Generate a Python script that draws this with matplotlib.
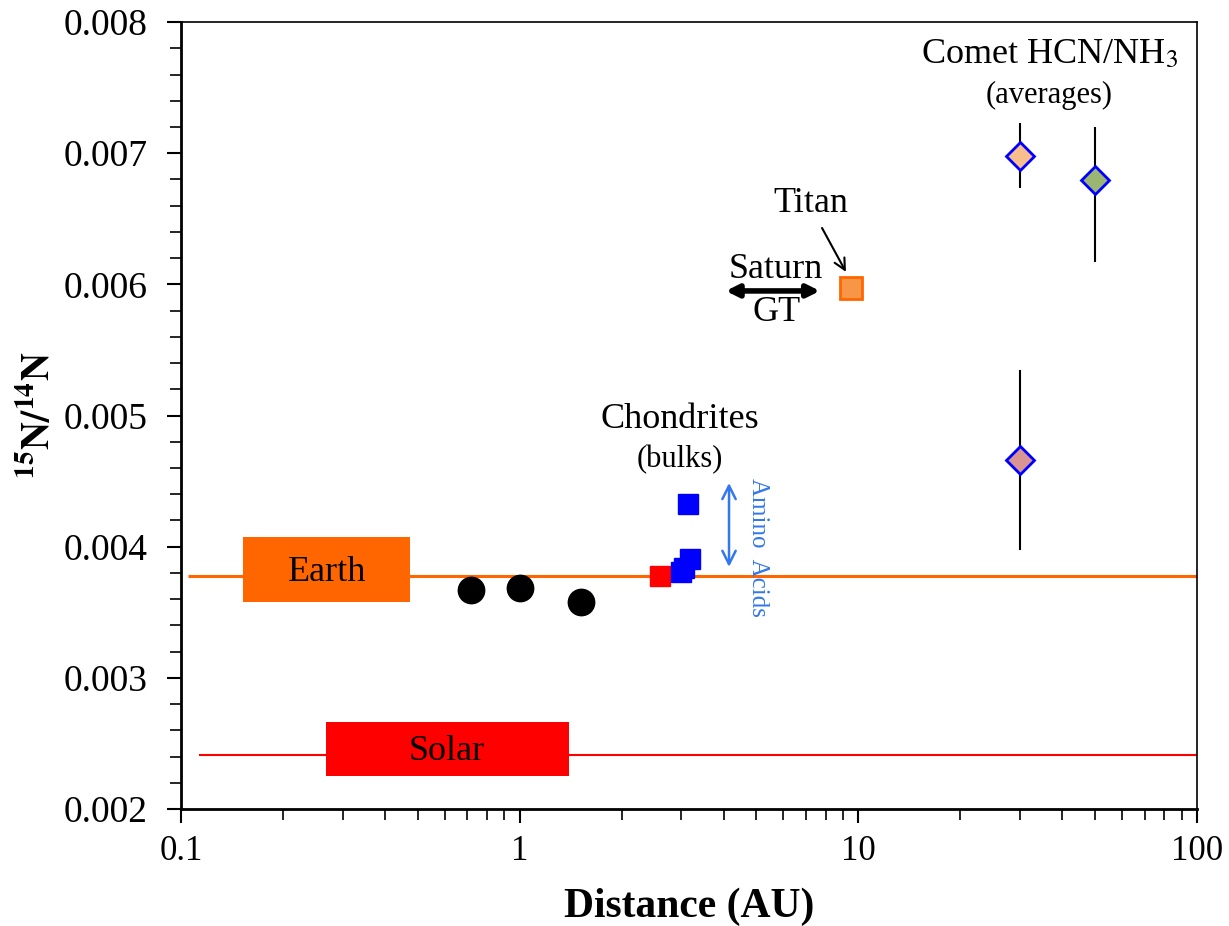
import matplotlib.pyplot as plt
from matplotlib.patches import Rectangle
from matplotlib.ticker import MultipleLocator, FixedLocator, NullFormatter

plt.rcParams['font.family'] = ['Liberation Serif', 'DejaVu Serif']
plt.rcParams['mathtext.fontset'] = 'stix'

# terrestrial planets (Venus, Earth, Mars)
planet_au = [0.72, 1.0, 1.52]
planet_ratio = [0.003671, 0.003686, 0.003579]

# chondrites (bulk)
chon_red_au = [2.6]
chon_red_ratio = [0.003777]
chon_blue_au = [3.0, 3.05, 3.18, 3.14]
chon_blue_ratio = [0.00381, 0.00384, 0.00391, 0.004326]

# Titan
titan_au = [9.5]
titan_ratio = [0.005973]

# comet averages (value, lower, upper)
comet_au = [30, 50, 30]
comet_ratio = [0.006979, 0.006796, 0.004662]
comet_low = [0.006735, 0.00617, 0.003976]
comet_high = [0.00723, 0.00720, 0.005348]
comet_colors = ['#F9BE8D', '#9BB572', '#D99594']

# reference levels
earth_ratio = 0.003777
solar_ratio = 0.002413

fig = plt.figure(figsize=(12.29, 9.26), dpi=100)
ax = fig.add_axes([0.1473, 0.1263, 0.8267, 0.8499])

ax.set_xscale('log')
ax.set_xlim(0.1, 100)
ax.set_ylim(0.002, 0.008)

# reference lines and their boxes
ax.hlines(earth_ratio, 0.105, 100, color='#FF6600', lw=2.2, zorder=2)
ax.hlines(solar_ratio, 0.113, 100, color='#FF0000', lw=1.5, zorder=2)
ax.add_patch(Rectangle((0.1525, 0.003579), 0.474 - 0.1525, 0.004075 - 0.003579,
                       facecolor='#FF6600', edgecolor='none', zorder=3))
ax.add_patch(Rectangle((0.268, 0.002253), 1.398 - 0.268, 0.002665 - 0.002253,
                       facecolor='#FF0000', edgecolor='none', zorder=3))
ax.text(0.27, 0.0038, 'Earth', fontsize=26, ha='center', va='center', zorder=4)
ax.text(0.61, 0.002436, 'Solar', fontsize=26, ha='center', va='center', zorder=4)

# points
ax.plot(planet_au, planet_ratio, 'o', color='black', ms=19, zorder=5)
ax.plot(chon_red_au, chon_red_ratio, 's', color='#FF0000', ms=15, zorder=5)
ax.plot(chon_blue_au, chon_blue_ratio, 's', color='#0000FF', ms=15, zorder=5)
ax.plot(titan_au, titan_ratio, 's', mfc='#F79646', mec='#FF6600', mew=2, ms=16, zorder=5)

for x, y, lo, hi, c in zip(comet_au, comet_ratio, comet_low, comet_high, comet_colors):
    ax.vlines(x, lo, hi, color='black', lw=1.5, zorder=4)
    ax.plot(x, y, 'D', mfc=c, mec='#0000FF', mew=2, ms=14, zorder=5)

# annotations
ax.text(36.6, 0.007748, 'Comet HCN/NH$_3$', fontsize=26, ha='center', va='center')
ax.text(36.6, 0.007444, '(averages)', fontsize=22, ha='center', va='center')
ax.text(2.97, 0.004967, 'Chondrites', fontsize=26, ha='center', va='center')
ax.text(2.97, 0.004662, '(bulks)', fontsize=22, ha='center', va='center')
ax.text(5.71, 0.00611, 'Saturn', fontsize=26, ha='center', va='center')
ax.text(5.73, 0.005782, 'GT', fontsize=26, ha='center', va='center')
ax.annotate('', xy=(4.06, 0.00595), xytext=(7.7, 0.00595),
            arrowprops=dict(arrowstyle='<|-|>', color='black', lw=4,
                            mutation_scale=18, shrinkA=0, shrinkB=0))
ax.text(7.24, 0.00662, 'Titan', fontsize=26, ha='center', va='center')
ax.annotate('', xy=(9.19, 0.006095), xytext=(7.81, 0.00643),
            arrowprops=dict(arrowstyle='->', color='black', lw=1.5,
                            mutation_scale=20, shrinkA=0, shrinkB=0))
ax.annotate('', xy=(4.15, 0.003846), xytext=(4.15, 0.004486),
            arrowprops=dict(arrowstyle='<->', color='#3377EE', lw=1.8,
                            mutation_scale=24, shrinkA=0, shrinkB=0))
ax.text(5.05, 0.003991, 'Amino  Acids', fontsize=18, color='#3377EE',
        rotation=-90, ha='center', va='center')

# axes styling
ax.yaxis.set_major_locator(MultipleLocator(0.001))
ax.yaxis.set_minor_locator(MultipleLocator(0.0002))
ax.yaxis.set_major_formatter(plt.FuncFormatter(lambda v, p: f'{v:.3f}'))
ax.xaxis.set_major_locator(FixedLocator([0.1, 1, 10, 100]))
ax.xaxis.set_major_formatter(plt.FuncFormatter(lambda v, p: f'{v:g}'))
ax.xaxis.set_minor_formatter(NullFormatter())
ax.tick_params(axis='both', which='major', direction='out', length=10, width=1.5)
ax.tick_params(axis='y', which='major', labelsize=27, pad=14)
ax.tick_params(axis='x', which='major', labelsize=25, pad=9)
ax.tick_params(axis='both', which='minor', direction='out', length=8, width=1.2)
ax.tick_params(top=False, right=False, which='both')
for s in ax.spines.values():
    s.set_linewidth(1.2)
ax.spines['left'].set_linewidth(2)
ax.spines['bottom'].set_linewidth(2)

ax.set_xlabel('Distance (AU)', fontsize=30, fontweight='bold', labelpad=14)
ax.set_ylabel(r'$\mathbf{^{15}N/^{14}N}$', fontsize=28, labelpad=12)
ax.yaxis.set_label_coords(-0.12, 0.5)

fig.savefig('out.png', dpi=100)
